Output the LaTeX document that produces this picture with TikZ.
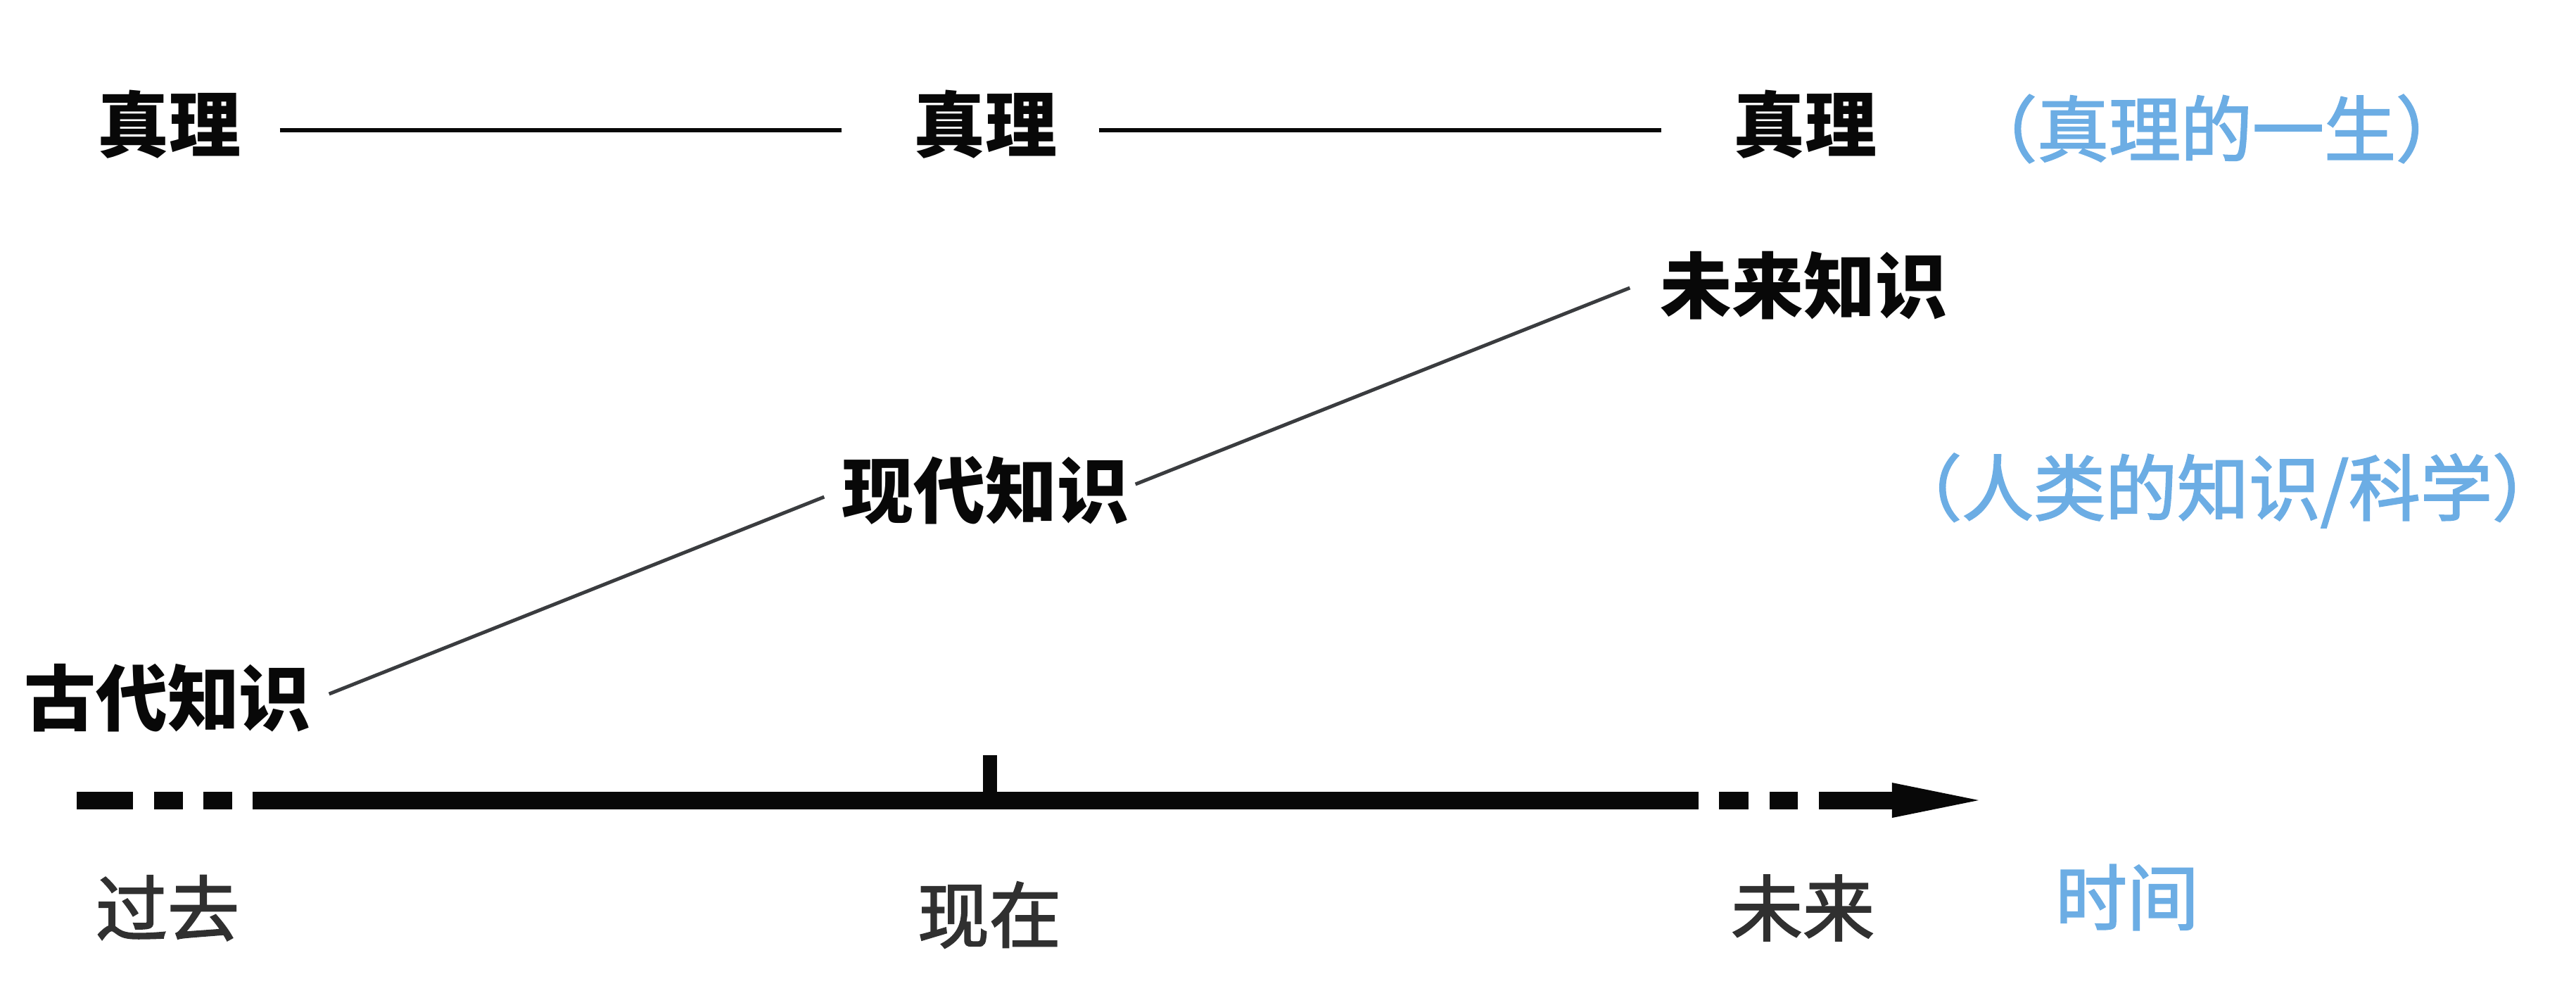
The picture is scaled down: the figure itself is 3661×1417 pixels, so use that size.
\documentclass[tikz,border=0pt]{standalone}
\usepackage{fontspec}
\newfontfamily\cjk{Noto Sans CJK SC}
\newfontfamily\cjkmid[FakeBold=2]{Noto Sans CJK SC}
\usetikzlibrary{arrows.meta}
\definecolor{inkblack}{HTML}{080808}
\definecolor{linegray}{HTML}{3A3C3F}
\definecolor{eragray}{HTML}{303030}
\definecolor{noteblue}{HTML}{6CADE4}

\begin{document}
\begin{tikzpicture}[x=0.01cm, y=-0.01cm,
		every node/.style={inner sep=0pt, font=\cjkmid\fontsize{29pt}{34pt}\selectfont},
		truth/.style={font=\cjk\bfseries\fontsize{29pt}{34pt}\selectfont, text=inkblack},
		era/.style={text=eragray},
		note/.style={text=noteblue},
		truthline/.style={draw=inkblack, line width=0.06cm},
		knowline/.style={draw=linegray, line width=0.05cm}
	]
	\useasboundingbox (0,0) rectangle (3661,1417);
	
	% the life of truth
	\node[truth] (t1) at (240,177) {真理};
	\node[truth] (t2) at (1400,177) {真理};
	\node[truth] (t3) at (2565,177) {真理};
	\node[note] (life) at (3150,183) {（真理的一生）};
	
	\draw[truthline] ([xshift=0.55cm, yshift=-0.08cm]t1.east) -- ([xshift=-1.01cm, yshift=-0.08cm]t2.west);
	\draw[truthline] ([xshift=0.59cm, yshift=-0.08cm]t2.east) -- ([xshift=-1.01cm, yshift=-0.08cm]t3.west);
	
	% human knowledge
	\node[truth] (ancient) at (238,992) {古代知识};
	\node[truth] (modern) at (1400,697) {现代知识};
	\node[truth] (future) at (2563,406) {未来知识};
	\node[note] (science) at (3165,697) {（人类的知识/科学）};
	
	\draw[knowline] ([xshift=0.25cm, yshift=0.06cm]ancient.east) -- ([xshift=-0.24cm, yshift=-0.09cm]modern.west);
	\draw[knowline] ([xshift=0.09cm, yshift=0.09cm]modern.east) -- ([xshift=-0.42cm, yshift=-0.03cm]future.west);
	
	% time axis
	\coordinate (past) at (109,1137);
	\coordinate (now) at (1407,1137);
	\coordinate (later) at (2812,1137);
	
	\draw[inkblack, line width=0.25cm,
		dash pattern=on 0.8cm off 0.3cm on 0.41cm off 0.29cm on 0.41cm off 0.29cm on 20.54cm off 0.29cm on 0.42cm off 0.3cm on 0.4cm off 0.3cm on 3cm,
		-{Triangle[length=1.23cm, width=0.5cm, line width=0pt]}] (past) -- (later);
	\draw[inkblack, line width=0.2cm] (now) --++(0,-64);
	
	\node[era] (pastlbl) at (238,1290) {过去};
	\node[era] (nowlbl) at (1406,1300) {现在};
	\node[era] (laterlbl) at (2562,1290) {未来};
	\node[note] (time) at (3023,1275) {时间};
\end{tikzpicture}
\end{document}
